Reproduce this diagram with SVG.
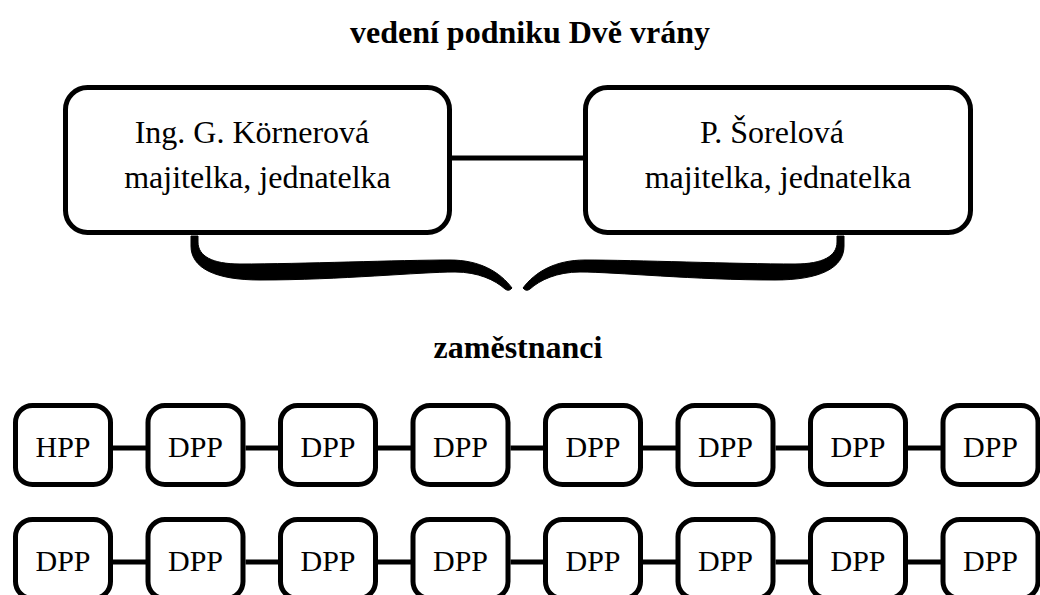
<svg xmlns="http://www.w3.org/2000/svg" width="1040" height="595" viewBox="0 0 1040 595">
<style>
.box{fill:#fff;stroke:#000;stroke-width:5}
.t{font-family:"Liberation Serif","Times New Roman",serif;fill:#000;text-anchor:middle}
.big{font-size:32px}
.small{font-size:30px}
.h{font-size:32px;font-weight:bold}
.c{stroke:#000;stroke-width:5;fill:none}
.brace{fill:#000;stroke:#000;stroke-width:1;stroke-linejoin:round}
</style>
<rect width="1040" height="595" fill="#fff"/>
<text class="t h" x="530" y="43">vedení podniku Dvě vrány</text>
<text class="t h" x="518" y="358">zaměstnanci</text>
<g id="connectors">
<line class="c" x1="450" y1="158" x2="586" y2="158"/>
<path class="brace" d="M191,236 L191,246 C191,268 215,280 260,280 C340,280 420,272 455,272 C478,272 495,280 505,289 Q509,292 512,288 C500,272 480,260 450,260 C400,260 300,264 240,264 C212,264 198,256 198,242 L198,236 Z"/>
<path class="brace" d="M844,236 L844,246 C844,268 820,280 775,280 C695,280 615,272 580,272 C557,272 540,280 530,289 Q526,292 523,288 C535,272 555,260 585,260 C635,260 735,264 795,264 C823,264 837,256 837,242 L837,236 Z"/>
<path class="c" d="M113,448H146M245.5,448H278.5M378,448H411M510.5,448H543.5M643,448H676M775.5,448H808.5M908,448H941"/>
<path class="c" d="M113,562H146M245.5,562H278.5M378,562H411M510.5,562H543.5M643,562H676M775.5,562H808.5M908,562H941"/>
</g>
<g id="n_kornerova">
<rect class="box" x="65.5" y="87.5" width="384" height="145" rx="22"/>
<text class="t big" x="252" y="143">Ing. G. Körnerová</text>
<text class="t big" x="257.5" y="188">majitelka, jednatelka</text>
</g>
<g id="n_sorelova">
<rect class="box" x="585.5" y="87.5" width="385" height="145" rx="22"/>
<text class="t big" x="772" y="143">P. Šorelová</text>
<text class="t big" x="778" y="188">majitelka, jednatelka</text>
</g>
<g id="r1_1"><rect class="box" x="15.5" y="405.5" width="95" height="79" rx="17"/><text class="t small" x="63" y="457">HPP</text></g>
<g id="r1_2"><rect class="box" x="148" y="405.5" width="95" height="79" rx="17"/><text class="t small" x="195.5" y="457">DPP</text></g>
<g id="r1_3"><rect class="box" x="280.5" y="405.5" width="95" height="79" rx="17"/><text class="t small" x="328" y="457">DPP</text></g>
<g id="r1_4"><rect class="box" x="413" y="405.5" width="95" height="79" rx="17"/><text class="t small" x="460.5" y="457">DPP</text></g>
<g id="r1_5"><rect class="box" x="545.5" y="405.5" width="95" height="79" rx="17"/><text class="t small" x="593" y="457">DPP</text></g>
<g id="r1_6"><rect class="box" x="678" y="405.5" width="95" height="79" rx="17"/><text class="t small" x="725.5" y="457">DPP</text></g>
<g id="r1_7"><rect class="box" x="810.5" y="405.5" width="95" height="79" rx="17"/><text class="t small" x="858" y="457">DPP</text></g>
<g id="r1_8"><rect class="box" x="943" y="405.5" width="95" height="79" rx="17"/><text class="t small" x="990.5" y="457">DPP</text></g>
<g id="r2_1"><rect class="box" x="15.5" y="519.5" width="95" height="79" rx="17"/><text class="t small" x="63" y="571">DPP</text></g>
<g id="r2_2"><rect class="box" x="148" y="519.5" width="95" height="79" rx="17"/><text class="t small" x="195.5" y="571">DPP</text></g>
<g id="r2_3"><rect class="box" x="280.5" y="519.5" width="95" height="79" rx="17"/><text class="t small" x="328" y="571">DPP</text></g>
<g id="r2_4"><rect class="box" x="413" y="519.5" width="95" height="79" rx="17"/><text class="t small" x="460.5" y="571">DPP</text></g>
<g id="r2_5"><rect class="box" x="545.5" y="519.5" width="95" height="79" rx="17"/><text class="t small" x="593" y="571">DPP</text></g>
<g id="r2_6"><rect class="box" x="678" y="519.5" width="95" height="79" rx="17"/><text class="t small" x="725.5" y="571">DPP</text></g>
<g id="r2_7"><rect class="box" x="810.5" y="519.5" width="95" height="79" rx="17"/><text class="t small" x="858" y="571">DPP</text></g>
<g id="r2_8"><rect class="box" x="943" y="519.5" width="95" height="79" rx="17"/><text class="t small" x="990.5" y="571">DPP</text></g>
</svg>
